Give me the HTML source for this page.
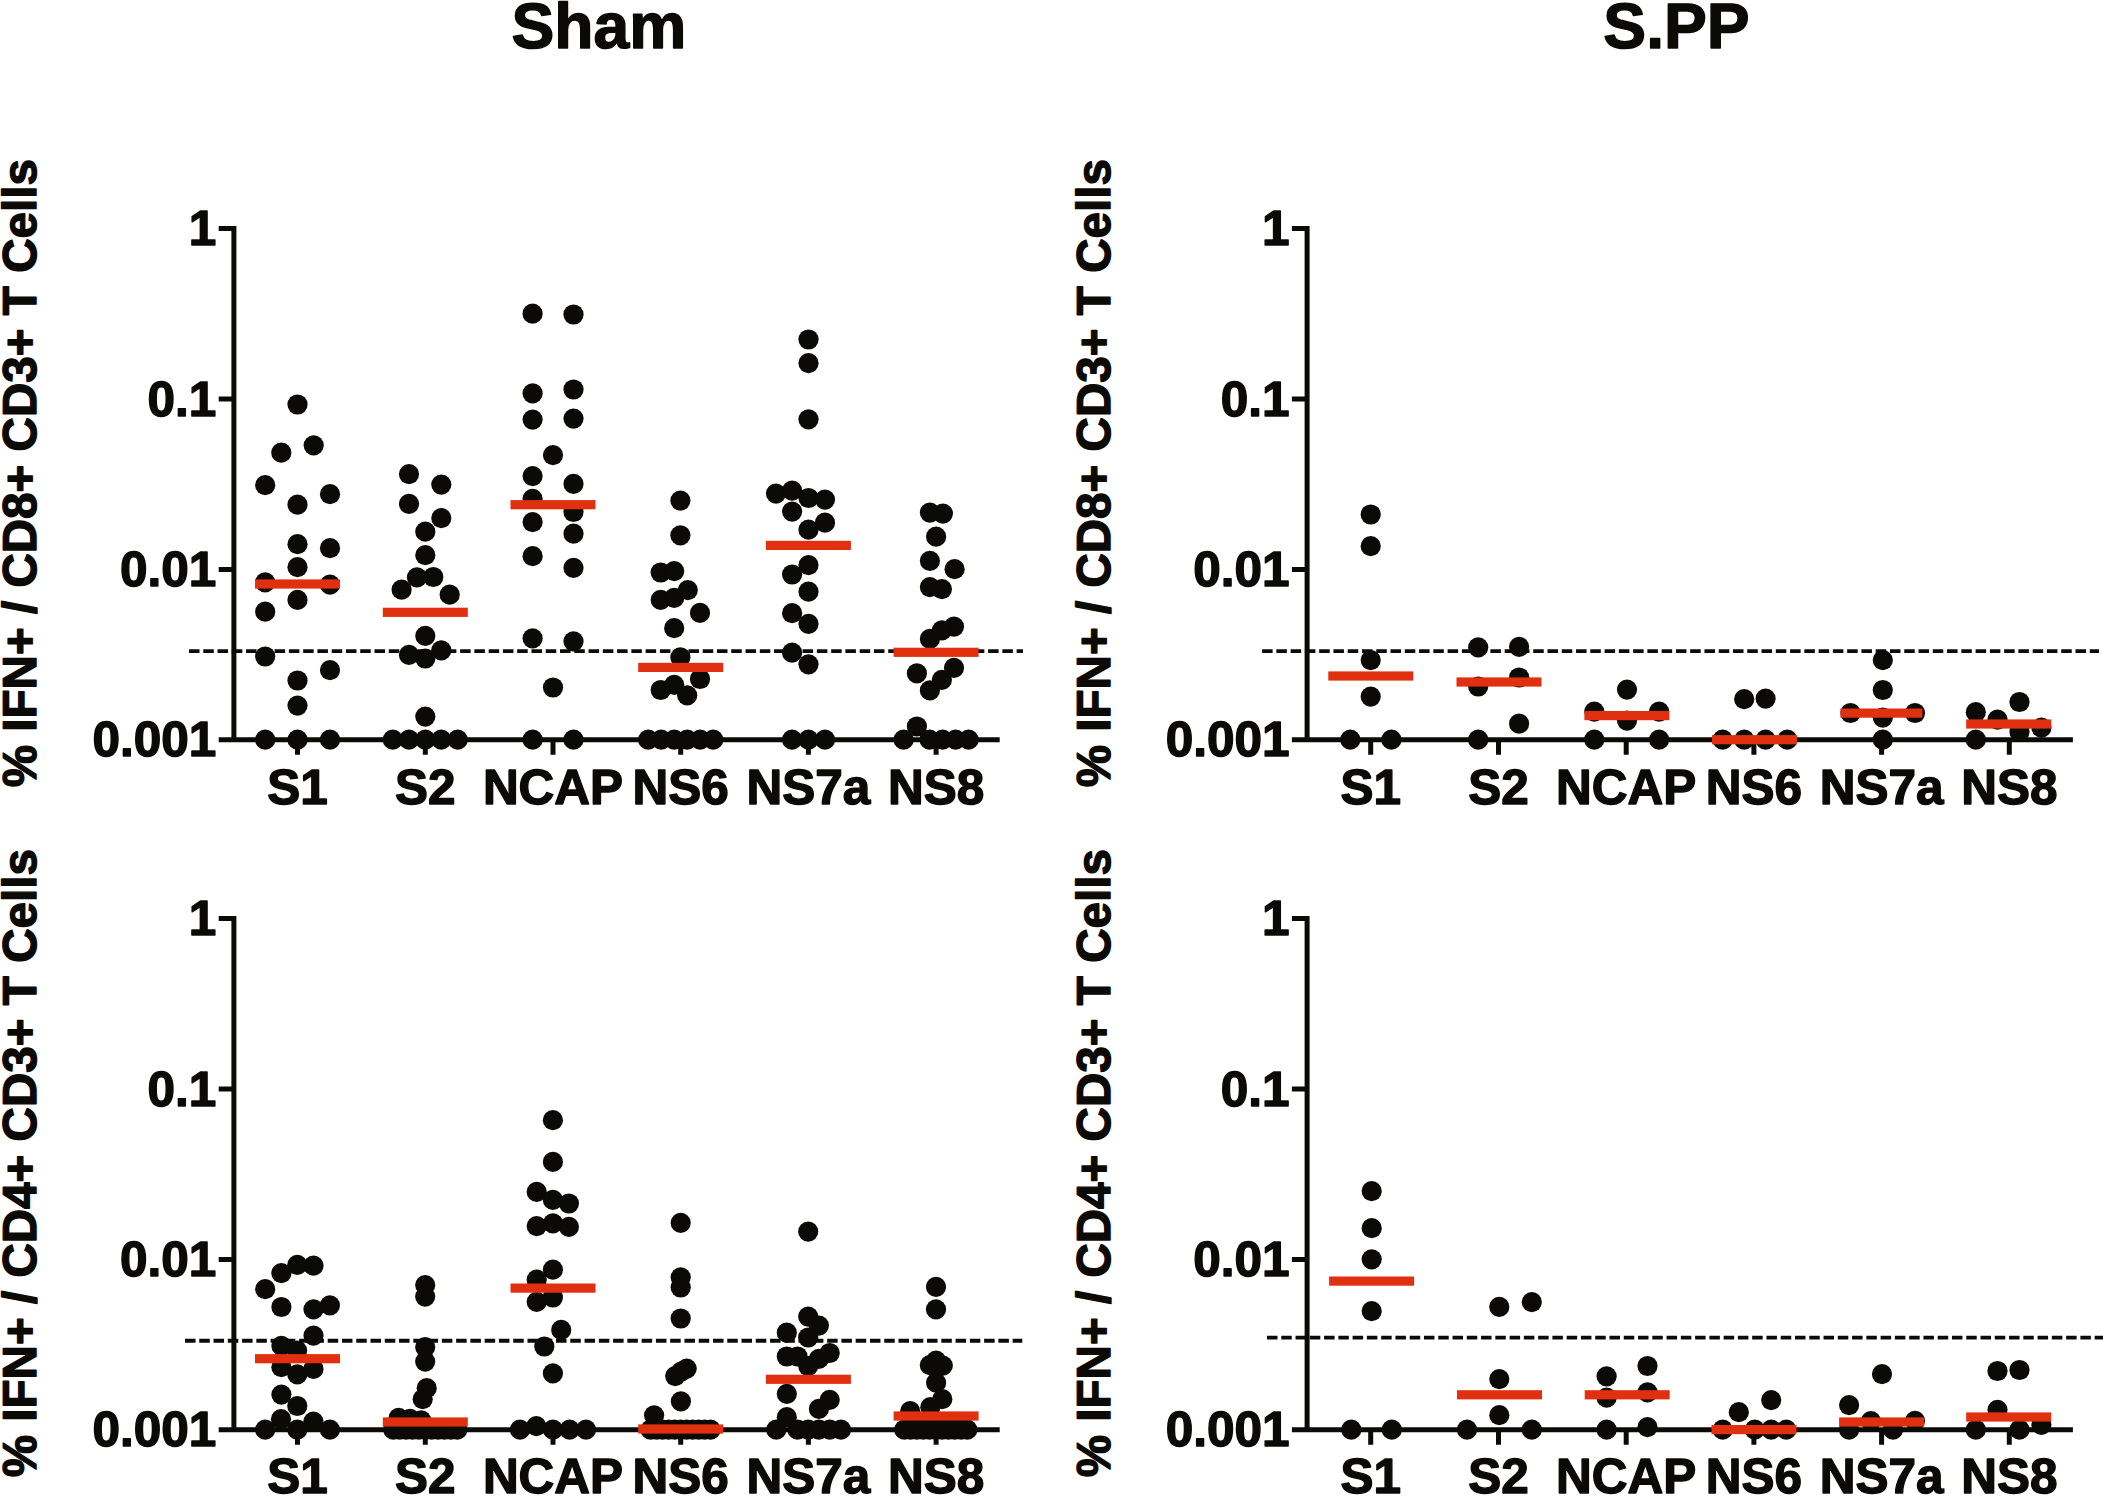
<!DOCTYPE html>
<html lang="en"><head><meta charset="utf-8"><title>IFN+ T cell responses: Sham vs S.PP</title>
<style>
html,body{margin:0;padding:0;background:#fff;}
body{width:2103px;height:1496px;overflow:hidden;}
svg{display:block;}
text{font-family:"Liberation Sans",sans-serif;font-weight:bold;fill:#0b0a07;stroke:#0b0a07;stroke-width:1.4px;stroke-linejoin:round;text-rendering:geometricPrecision;}
.t{font-size:64.2px;}
.l{font-size:49.5px;}
.x{font-size:49.5px;}
.y{font-size:47.6px;}
.ax{stroke:#0b0a07;stroke-width:5;fill:none;}
.d{fill:#0b0a07;}
.b{fill:#e1300f;}
.dash{stroke:#0b0a07;stroke-width:3.9;stroke-dasharray:10.5 3.77;fill:none;}
</style></head><body>
<svg width="2103" height="1496" viewBox="0 0 2103 1496">
<rect width="2103" height="1496" fill="#fff"/>
<text class="t" text-anchor="middle" transform="translate(598.9 47.7)">Sham</text>
<text class="t" text-anchor="middle" transform="translate(1676.5 47.7)">S.PP</text>
<g>
<text class="y" text-anchor="middle" transform="translate(36.3 473.2) rotate(-90)">% IFN+ / CD8+ CD3+ T Cells</text>
<text class="l" text-anchor="end" transform="translate(216.4 245.1)">1</text>
<text class="l" text-anchor="end" transform="translate(216.4 415.7)">0.1</text>
<text class="l" text-anchor="end" transform="translate(216.4 586)">0.01</text>
<text class="l" text-anchor="end" transform="translate(216.4 756.3)">0.001</text>
<path class="ax" d="M233.9 226 V742.2 M218.7 739.7 H999.7 M218.7 228.5 H233.9 M218.7 399.1 H233.9 M218.7 569.4 H233.9 M297.5 739.7 V754.8 M425.3 739.7 V754.8 M553 739.7 V754.8 M680.7 739.7 V754.8 M808.4 739.7 V754.8 M936.1 739.7 V754.8"/>
<path class="dash" d="M189 651.1 H1023"/>
<g class="d">
<circle cx="297.5" cy="404.5" r="10.1"/>
<circle cx="313.7" cy="445.3" r="10.1"/>
<circle cx="281.3" cy="452.7" r="10.1"/>
<circle cx="265.2" cy="485.2" r="10.1"/>
<circle cx="330" cy="494.2" r="10.1"/>
<circle cx="297.5" cy="504.6" r="10.1"/>
<circle cx="297.5" cy="544.2" r="10.1"/>
<circle cx="330" cy="548.2" r="10.1"/>
<circle cx="297.5" cy="567.2" r="10.1"/>
<circle cx="265.2" cy="582.3" r="10.1"/>
<circle cx="330" cy="584.7" r="10.1"/>
<circle cx="297.5" cy="599.9" r="10.1"/>
<circle cx="265.2" cy="611.7" r="10.1"/>
<circle cx="265.2" cy="656.5" r="10.1"/>
<circle cx="330" cy="670.1" r="10.1"/>
<circle cx="297.5" cy="680.5" r="10.1"/>
<circle cx="297.5" cy="705.6" r="10.1"/>
<circle cx="265.2" cy="739.7" r="10.1"/>
<circle cx="297.5" cy="739.7" r="10.1"/>
<circle cx="330" cy="739.7" r="10.1"/>
<circle cx="409" cy="474.1" r="10.1"/>
<circle cx="441.3" cy="484.6" r="10.1"/>
<circle cx="409" cy="503.8" r="10.1"/>
<circle cx="441.3" cy="518.1" r="10.1"/>
<circle cx="425.3" cy="531.7" r="10.1"/>
<circle cx="425.3" cy="555.2" r="10.1"/>
<circle cx="417" cy="577.4" r="10.1"/>
<circle cx="433.3" cy="577" r="10.1"/>
<circle cx="401.6" cy="589.7" r="10.1"/>
<circle cx="449.7" cy="594.7" r="10.1"/>
<circle cx="425.3" cy="635.8" r="10.1"/>
<circle cx="441.3" cy="650.4" r="10.1"/>
<circle cx="409" cy="654.9" r="10.1"/>
<circle cx="425.3" cy="658.5" r="10.1"/>
<circle cx="425.3" cy="716.6" r="10.1"/>
<circle cx="392.8" cy="739.7" r="10.1"/>
<circle cx="409" cy="739.7" r="10.1"/>
<circle cx="425.3" cy="739.7" r="10.1"/>
<circle cx="441.3" cy="739.7" r="10.1"/>
<circle cx="457.7" cy="739.7" r="10.1"/>
<circle cx="532.6" cy="313.7" r="10.1"/>
<circle cx="573.5" cy="314.5" r="10.1"/>
<circle cx="532.6" cy="393.3" r="10.1"/>
<circle cx="573.5" cy="389.5" r="10.1"/>
<circle cx="532.6" cy="419.6" r="10.1"/>
<circle cx="573.5" cy="418.6" r="10.1"/>
<circle cx="553" cy="455.1" r="10.1"/>
<circle cx="532.6" cy="476.1" r="10.1"/>
<circle cx="573.5" cy="483.8" r="10.1"/>
<circle cx="532.6" cy="498.8" r="10.1"/>
<circle cx="573.5" cy="512" r="10.1"/>
<circle cx="532.6" cy="522.1" r="10.1"/>
<circle cx="573.5" cy="533.7" r="10.1"/>
<circle cx="532.6" cy="556.2" r="10.1"/>
<circle cx="573.5" cy="567.8" r="10.1"/>
<circle cx="532.6" cy="638.4" r="10.1"/>
<circle cx="573.5" cy="641.4" r="10.1"/>
<circle cx="553" cy="687.5" r="10.1"/>
<circle cx="532.6" cy="739.7" r="10.1"/>
<circle cx="573.5" cy="739.7" r="10.1"/>
<circle cx="680.4" cy="500.6" r="10.1"/>
<circle cx="680.4" cy="535.3" r="10.1"/>
<circle cx="660.7" cy="572.5" r="10.1"/>
<circle cx="674.2" cy="571.1" r="10.1"/>
<circle cx="687.8" cy="590.1" r="10.1"/>
<circle cx="660.7" cy="599.8" r="10.1"/>
<circle cx="674.2" cy="597.8" r="10.1"/>
<circle cx="700" cy="612.8" r="10.1"/>
<circle cx="674.2" cy="628.2" r="10.1"/>
<circle cx="680.4" cy="657.3" r="10.1"/>
<circle cx="700" cy="679" r="10.1"/>
<circle cx="674.2" cy="684.8" r="10.1"/>
<circle cx="660.7" cy="690" r="10.1"/>
<circle cx="687.2" cy="695.4" r="10.1"/>
<circle cx="648.2" cy="739.7" r="10.1"/>
<circle cx="661.2" cy="739.7" r="10.1"/>
<circle cx="674.2" cy="739.7" r="10.1"/>
<circle cx="687.2" cy="739.7" r="10.1"/>
<circle cx="700.2" cy="739.7" r="10.1"/>
<circle cx="713.2" cy="739.7" r="10.1"/>
<circle cx="808.5" cy="339.5" r="10.1"/>
<circle cx="808.5" cy="363.2" r="10.1"/>
<circle cx="808.5" cy="419.4" r="10.1"/>
<circle cx="776" cy="493.6" r="10.1"/>
<circle cx="792.1" cy="490.6" r="10.1"/>
<circle cx="808.5" cy="498" r="10.1"/>
<circle cx="825" cy="499.6" r="10.1"/>
<circle cx="792.1" cy="511.6" r="10.1"/>
<circle cx="825" cy="522.7" r="10.1"/>
<circle cx="808.5" cy="529.7" r="10.1"/>
<circle cx="808.5" cy="565.1" r="10.1"/>
<circle cx="792.1" cy="574.5" r="10.1"/>
<circle cx="808.5" cy="591.7" r="10.1"/>
<circle cx="792.1" cy="613.2" r="10.1"/>
<circle cx="808.5" cy="623.8" r="10.1"/>
<circle cx="792.1" cy="652.7" r="10.1"/>
<circle cx="808.5" cy="664.3" r="10.1"/>
<circle cx="792.1" cy="739.7" r="10.1"/>
<circle cx="808.5" cy="739.7" r="10.1"/>
<circle cx="825" cy="739.7" r="10.1"/>
<circle cx="929.9" cy="512.6" r="10.1"/>
<circle cx="942.9" cy="513.6" r="10.1"/>
<circle cx="936.1" cy="536.7" r="10.1"/>
<circle cx="929.9" cy="560.8" r="10.1"/>
<circle cx="954.6" cy="569.2" r="10.1"/>
<circle cx="929.9" cy="587.1" r="10.1"/>
<circle cx="941.9" cy="589.1" r="10.1"/>
<circle cx="954" cy="626.6" r="10.1"/>
<circle cx="941.9" cy="630.3" r="10.1"/>
<circle cx="929.9" cy="638.9" r="10.1"/>
<circle cx="954" cy="667.8" r="10.1"/>
<circle cx="916.9" cy="673.4" r="10.1"/>
<circle cx="941.9" cy="679.8" r="10.1"/>
<circle cx="929.9" cy="690.4" r="10.1"/>
<circle cx="916.9" cy="726.5" r="10.1"/>
<circle cx="903.6" cy="739.7" r="10.1"/>
<circle cx="929.6" cy="739.7" r="10.1"/>
<circle cx="942.6" cy="739.7" r="10.1"/>
<circle cx="955.6" cy="739.7" r="10.1"/>
<circle cx="968.6" cy="739.7" r="10.1"/>
</g>
<g class="b">
<rect x="255" y="579.4" width="85" height="9.2"/>
<rect x="382.8" y="607.7" width="85" height="9.2"/>
<rect x="510.5" y="500.1" width="85" height="9.2"/>
<rect x="638.2" y="662.8" width="85" height="9.2"/>
<rect x="765.9" y="540.8" width="85" height="9.2"/>
<rect x="893.6" y="647.7" width="85" height="9.2"/>
</g>
<text class="x" text-anchor="middle" transform="translate(297.5 803.9)">S1</text>
<text class="x" text-anchor="middle" transform="translate(425.3 803.9)">S2</text>
<text class="x" text-anchor="middle" transform="translate(553 803.9)">NCAP</text>
<text class="x" text-anchor="middle" transform="translate(680.7 803.9)">NS6</text>
<text class="x" text-anchor="middle" transform="translate(808.4 803.9)">NS7a</text>
<text class="x" text-anchor="middle" transform="translate(936.1 803.9)">NS8</text>
</g>
<g>
<text class="y" text-anchor="middle" transform="translate(1109.5 473.2) rotate(-90)">% IFN+ / CD8+ CD3+ T Cells</text>
<text class="l" text-anchor="end" transform="translate(1289.6 245.1)">1</text>
<text class="l" text-anchor="end" transform="translate(1289.6 415.7)">0.1</text>
<text class="l" text-anchor="end" transform="translate(1289.6 586)">0.01</text>
<text class="l" text-anchor="end" transform="translate(1289.6 756.3)">0.001</text>
<path class="ax" d="M1307.1 226 V742.2 M1291.9 739.7 H2072.9 M1291.9 228.5 H1307.1 M1291.9 399.1 H1307.1 M1291.9 569.4 H1307.1 M1370.7 739.7 V754.8 M1498.5 739.7 V754.8 M1626.2 739.7 V754.8 M1753.9 739.7 V754.8 M1881.6 739.7 V754.8 M2009.3 739.7 V754.8"/>
<path class="dash" d="M1262.1 651.1 H2099"/>
<g class="d">
<circle cx="1370.7" cy="514.5" r="10.1"/>
<circle cx="1370.7" cy="546.2" r="10.1"/>
<circle cx="1370.7" cy="660.1" r="10.1"/>
<circle cx="1370.7" cy="696.6" r="10.1"/>
<circle cx="1350.3" cy="739.7" r="10.1"/>
<circle cx="1391.4" cy="739.7" r="10.1"/>
<circle cx="1478.2" cy="647.4" r="10.1"/>
<circle cx="1519.1" cy="646.8" r="10.1"/>
<circle cx="1519.1" cy="677.5" r="10.1"/>
<circle cx="1478.2" cy="686.5" r="10.1"/>
<circle cx="1519.1" cy="723.7" r="10.1"/>
<circle cx="1478.2" cy="739.7" r="10.1"/>
<circle cx="1627" cy="689.6" r="10.1"/>
<circle cx="1594.3" cy="711.6" r="10.1"/>
<circle cx="1659.1" cy="711.6" r="10.1"/>
<circle cx="1627" cy="720.6" r="10.1"/>
<circle cx="1594.3" cy="739.7" r="10.1"/>
<circle cx="1659.1" cy="739.7" r="10.1"/>
<circle cx="1744.2" cy="699.2" r="10.1"/>
<circle cx="1765.6" cy="698.6" r="10.1"/>
<circle cx="1722.7" cy="739.7" r="10.1"/>
<circle cx="1744.2" cy="739.7" r="10.1"/>
<circle cx="1765.6" cy="739.7" r="10.1"/>
<circle cx="1787.3" cy="739.7" r="10.1"/>
<circle cx="1882.8" cy="660.1" r="10.1"/>
<circle cx="1882.8" cy="690" r="10.1"/>
<circle cx="1850.5" cy="713" r="10.1"/>
<circle cx="1882.8" cy="717.6" r="10.1"/>
<circle cx="1915" cy="713" r="10.1"/>
<circle cx="1882.8" cy="739.7" r="10.1"/>
<circle cx="2019.5" cy="702" r="10.1"/>
<circle cx="1975.8" cy="712.2" r="10.1"/>
<circle cx="1997.5" cy="719.6" r="10.1"/>
<circle cx="2019.5" cy="731.7" r="10.1"/>
<circle cx="2041.4" cy="727.7" r="10.1"/>
<circle cx="1975.8" cy="739.7" r="10.1"/>
</g>
<g class="b">
<rect x="1328.3" y="671.4" width="85" height="9.2"/>
<rect x="1456.5" y="677.4" width="85" height="9.2"/>
<rect x="1584.4" y="711" width="85" height="9.2"/>
<rect x="1712" y="735.1" width="85" height="9.2"/>
<rect x="1840.4" y="708.5" width="82" height="9.2"/>
<rect x="1966.2" y="719.4" width="85" height="9.2"/>
</g>
<text class="x" text-anchor="middle" transform="translate(1370.7 803.9)">S1</text>
<text class="x" text-anchor="middle" transform="translate(1498.5 803.9)">S2</text>
<text class="x" text-anchor="middle" transform="translate(1626.2 803.9)">NCAP</text>
<text class="x" text-anchor="middle" transform="translate(1753.9 803.9)">NS6</text>
<text class="x" text-anchor="middle" transform="translate(1881.6 803.9)">NS7a</text>
<text class="x" text-anchor="middle" transform="translate(2009.3 803.9)">NS8</text>
</g>
<g>
<text class="y" text-anchor="middle" transform="translate(36.3 1163.2) rotate(-90)">% IFN+ / CD4+ CD3+ T Cells</text>
<text class="l" text-anchor="end" transform="translate(216.4 935.1)">1</text>
<text class="l" text-anchor="end" transform="translate(216.4 1105.7)">0.1</text>
<text class="l" text-anchor="end" transform="translate(216.4 1276)">0.01</text>
<text class="l" text-anchor="end" transform="translate(216.4 1446.3)">0.001</text>
<path class="ax" d="M233.9 916 V1432.2 M218.7 1429.7 H999.7 M218.7 918.5 H233.9 M218.7 1089.1 H233.9 M218.7 1259.4 H233.9 M297.5 1429.7 V1444.8 M425.3 1429.7 V1444.8 M553 1429.7 V1444.8 M680.7 1429.7 V1444.8 M808.4 1429.7 V1444.8 M936.1 1429.7 V1444.8"/>
<path class="dash" d="M185 1340.8 H1022.3"/>
<g class="d">
<circle cx="297.3" cy="1264.9" r="10.1"/>
<circle cx="313.5" cy="1265.6" r="10.1"/>
<circle cx="281.4" cy="1273.2" r="10.1"/>
<circle cx="265.2" cy="1289.2" r="10.1"/>
<circle cx="281.4" cy="1307" r="10.1"/>
<circle cx="329.9" cy="1305.4" r="10.1"/>
<circle cx="313.5" cy="1309.4" r="10.1"/>
<circle cx="313.5" cy="1335.6" r="10.1"/>
<circle cx="281.4" cy="1345.8" r="10.1"/>
<circle cx="297.1" cy="1350.6" r="10.1"/>
<circle cx="281.4" cy="1367.2" r="10.1"/>
<circle cx="313.5" cy="1368.9" r="10.1"/>
<circle cx="297.3" cy="1374.4" r="10.1"/>
<circle cx="281.4" cy="1394.6" r="10.1"/>
<circle cx="297.3" cy="1406" r="10.1"/>
<circle cx="281" cy="1419.2" r="10.1"/>
<circle cx="313.4" cy="1421.7" r="10.1"/>
<circle cx="265.2" cy="1429.7" r="10.1"/>
<circle cx="297.3" cy="1429.7" r="10.1"/>
<circle cx="329.9" cy="1429.7" r="10.1"/>
<circle cx="425.2" cy="1285.1" r="10.1"/>
<circle cx="425.2" cy="1296.6" r="10.1"/>
<circle cx="425.2" cy="1347.1" r="10.1"/>
<circle cx="425.2" cy="1361.6" r="10.1"/>
<circle cx="426.7" cy="1388.2" r="10.1"/>
<circle cx="422.7" cy="1399.2" r="10.1"/>
<circle cx="398.6" cy="1417.8" r="10.1"/>
<circle cx="410.1" cy="1418.8" r="10.1"/>
<circle cx="421.2" cy="1420.3" r="10.1"/>
<circle cx="393.3" cy="1429.7" r="10.1"/>
<circle cx="399.7" cy="1429.7" r="10.1"/>
<circle cx="406.1" cy="1429.7" r="10.1"/>
<circle cx="412.5" cy="1429.7" r="10.1"/>
<circle cx="418.9" cy="1429.7" r="10.1"/>
<circle cx="425.3" cy="1429.7" r="10.1"/>
<circle cx="431.7" cy="1429.7" r="10.1"/>
<circle cx="438.1" cy="1429.7" r="10.1"/>
<circle cx="444.5" cy="1429.7" r="10.1"/>
<circle cx="450.9" cy="1429.7" r="10.1"/>
<circle cx="457.3" cy="1429.7" r="10.1"/>
<circle cx="552.9" cy="1120.2" r="10.1"/>
<circle cx="552.9" cy="1161.9" r="10.1"/>
<circle cx="536.7" cy="1191.9" r="10.1"/>
<circle cx="552.9" cy="1199.9" r="10.1"/>
<circle cx="568.9" cy="1203.5" r="10.1"/>
<circle cx="536.7" cy="1226.1" r="10.1"/>
<circle cx="552.9" cy="1223.3" r="10.1"/>
<circle cx="568.9" cy="1226.8" r="10.1"/>
<circle cx="552.9" cy="1269.7" r="10.1"/>
<circle cx="536.7" cy="1279.7" r="10.1"/>
<circle cx="552.9" cy="1297.5" r="10.1"/>
<circle cx="536.7" cy="1301.8" r="10.1"/>
<circle cx="561.2" cy="1329.9" r="10.1"/>
<circle cx="544.3" cy="1346.5" r="10.1"/>
<circle cx="552.9" cy="1373.4" r="10.1"/>
<circle cx="520" cy="1429.7" r="10.1"/>
<circle cx="536.3" cy="1426.2" r="10.1"/>
<circle cx="553" cy="1429.7" r="10.1"/>
<circle cx="569.6" cy="1429.7" r="10.1"/>
<circle cx="586" cy="1429.7" r="10.1"/>
<circle cx="680.7" cy="1222.8" r="10.1"/>
<circle cx="680.7" cy="1277.3" r="10.1"/>
<circle cx="680.7" cy="1287.5" r="10.1"/>
<circle cx="680.7" cy="1318.5" r="10.1"/>
<circle cx="686.7" cy="1368.6" r="10.1"/>
<circle cx="681.2" cy="1371.6" r="10.1"/>
<circle cx="675.2" cy="1376.1" r="10.1"/>
<circle cx="680.9" cy="1401.4" r="10.1"/>
<circle cx="654.1" cy="1415.3" r="10.1"/>
<circle cx="650.6" cy="1429.7" r="10.1"/>
<circle cx="656.6" cy="1429.7" r="10.1"/>
<circle cx="662.6" cy="1429.7" r="10.1"/>
<circle cx="668.6" cy="1429.7" r="10.1"/>
<circle cx="674.6" cy="1429.7" r="10.1"/>
<circle cx="680.6" cy="1429.7" r="10.1"/>
<circle cx="686.6" cy="1429.7" r="10.1"/>
<circle cx="692.6" cy="1429.7" r="10.1"/>
<circle cx="698.6" cy="1429.7" r="10.1"/>
<circle cx="704.6" cy="1429.7" r="10.1"/>
<circle cx="710.6" cy="1429.7" r="10.1"/>
<circle cx="808.2" cy="1231.6" r="10.1"/>
<circle cx="808.2" cy="1316.6" r="10.1"/>
<circle cx="818.9" cy="1325.6" r="10.1"/>
<circle cx="786.8" cy="1332.7" r="10.1"/>
<circle cx="808.2" cy="1337.5" r="10.1"/>
<circle cx="829.7" cy="1353" r="10.1"/>
<circle cx="786.8" cy="1356.5" r="10.1"/>
<circle cx="797.5" cy="1356.5" r="10.1"/>
<circle cx="818.9" cy="1358.9" r="10.1"/>
<circle cx="808.2" cy="1366.1" r="10.1"/>
<circle cx="786.8" cy="1393.8" r="10.1"/>
<circle cx="829.7" cy="1399.9" r="10.1"/>
<circle cx="818.9" cy="1408.9" r="10.1"/>
<circle cx="786.8" cy="1417.2" r="10.1"/>
<circle cx="776.3" cy="1429.7" r="10.1"/>
<circle cx="797.5" cy="1429.7" r="10.1"/>
<circle cx="808.2" cy="1429.7" r="10.1"/>
<circle cx="818.9" cy="1429.7" r="10.1"/>
<circle cx="829.7" cy="1429.7" r="10.1"/>
<circle cx="841" cy="1429.7" r="10.1"/>
<circle cx="936" cy="1286.8" r="10.1"/>
<circle cx="936" cy="1309.4" r="10.1"/>
<circle cx="936.1" cy="1360.6" r="10.1"/>
<circle cx="929.8" cy="1365.1" r="10.1"/>
<circle cx="942.8" cy="1365.6" r="10.1"/>
<circle cx="936.1" cy="1382.7" r="10.1"/>
<circle cx="942.3" cy="1399.2" r="10.1"/>
<circle cx="930.3" cy="1407.2" r="10.1"/>
<circle cx="910.2" cy="1411.2" r="10.1"/>
<circle cx="904.3" cy="1429.7" r="10.1"/>
<circle cx="910.6" cy="1429.7" r="10.1"/>
<circle cx="916.9" cy="1429.7" r="10.1"/>
<circle cx="923.2" cy="1429.7" r="10.1"/>
<circle cx="929.5" cy="1429.7" r="10.1"/>
<circle cx="935.8" cy="1429.7" r="10.1"/>
<circle cx="942.1" cy="1429.7" r="10.1"/>
<circle cx="948.4" cy="1429.7" r="10.1"/>
<circle cx="954.7" cy="1429.7" r="10.1"/>
<circle cx="961" cy="1429.7" r="10.1"/>
<circle cx="967.3" cy="1429.7" r="10.1"/>
</g>
<g class="b">
<rect x="255" y="1354.1" width="85" height="9.2"/>
<rect x="382.8" y="1417.4" width="85" height="9.2"/>
<rect x="510.5" y="1283.5" width="85" height="9.2"/>
<rect x="638.2" y="1424.4" width="85" height="9.2"/>
<rect x="765.9" y="1374.7" width="85" height="9.2"/>
<rect x="893.6" y="1411.4" width="85" height="9.2"/>
</g>
<text class="x" text-anchor="middle" transform="translate(297.5 1493)">S1</text>
<text class="x" text-anchor="middle" transform="translate(425.3 1493)">S2</text>
<text class="x" text-anchor="middle" transform="translate(553 1493)">NCAP</text>
<text class="x" text-anchor="middle" transform="translate(680.7 1493)">NS6</text>
<text class="x" text-anchor="middle" transform="translate(808.4 1493)">NS7a</text>
<text class="x" text-anchor="middle" transform="translate(936.1 1493)">NS8</text>
</g>
<g>
<text class="y" text-anchor="middle" transform="translate(1109.5 1163.2) rotate(-90)">% IFN+ / CD4+ CD3+ T Cells</text>
<text class="l" text-anchor="end" transform="translate(1289.6 935.1)">1</text>
<text class="l" text-anchor="end" transform="translate(1289.6 1105.7)">0.1</text>
<text class="l" text-anchor="end" transform="translate(1289.6 1276)">0.01</text>
<text class="l" text-anchor="end" transform="translate(1289.6 1446.3)">0.001</text>
<path class="ax" d="M1307.1 916 V1432.2 M1291.9 1429.7 H2072.9 M1291.9 918.5 H1307.1 M1291.9 1089.1 H1307.1 M1291.9 1259.4 H1307.1 M1370.7 1429.7 V1444.8 M1498.5 1429.7 V1444.8 M1626.2 1429.7 V1444.8 M1753.9 1429.7 V1444.8 M1881.6 1429.7 V1444.8 M2009.3 1429.7 V1444.8"/>
<path class="dash" d="M1267 1337.6 H2103"/>
<g class="d">
<circle cx="1371.7" cy="1191.1" r="10.1"/>
<circle cx="1371.7" cy="1228.2" r="10.1"/>
<circle cx="1371.7" cy="1259.3" r="10.1"/>
<circle cx="1371.7" cy="1311.1" r="10.1"/>
<circle cx="1351.3" cy="1429.7" r="10.1"/>
<circle cx="1391.8" cy="1429.7" r="10.1"/>
<circle cx="1499.3" cy="1306.9" r="10.1"/>
<circle cx="1531.8" cy="1302.1" r="10.1"/>
<circle cx="1499.3" cy="1379.1" r="10.1"/>
<circle cx="1499.3" cy="1415.2" r="10.1"/>
<circle cx="1467" cy="1429.7" r="10.1"/>
<circle cx="1531.8" cy="1429.7" r="10.1"/>
<circle cx="1647.5" cy="1366" r="10.1"/>
<circle cx="1606.6" cy="1376.3" r="10.1"/>
<circle cx="1647.5" cy="1392.3" r="10.1"/>
<circle cx="1606.6" cy="1397.7" r="10.1"/>
<circle cx="1606.6" cy="1429.7" r="10.1"/>
<circle cx="1647.5" cy="1427.2" r="10.1"/>
<circle cx="1771.2" cy="1400.1" r="10.1"/>
<circle cx="1738.8" cy="1412.2" r="10.1"/>
<circle cx="1722.7" cy="1429.7" r="10.1"/>
<circle cx="1754.8" cy="1429.7" r="10.1"/>
<circle cx="1771.2" cy="1429.7" r="10.1"/>
<circle cx="1786.3" cy="1429.7" r="10.1"/>
<circle cx="1882" cy="1374.1" r="10.1"/>
<circle cx="1849.1" cy="1405.1" r="10.1"/>
<circle cx="1870.9" cy="1421.2" r="10.1"/>
<circle cx="1915" cy="1420.8" r="10.1"/>
<circle cx="1849.1" cy="1429.7" r="10.1"/>
<circle cx="1893" cy="1429.7" r="10.1"/>
<circle cx="1997.5" cy="1371" r="10.1"/>
<circle cx="2019.5" cy="1370" r="10.1"/>
<circle cx="1997.5" cy="1409.8" r="10.1"/>
<circle cx="2041.4" cy="1424.8" r="10.1"/>
<circle cx="1975.8" cy="1429.7" r="10.1"/>
<circle cx="2019.5" cy="1429.7" r="10.1"/>
</g>
<g class="b">
<rect x="1329.1" y="1276.5" width="85" height="9.2"/>
<rect x="1457" y="1390.2" width="85" height="9.2"/>
<rect x="1584.7" y="1390.2" width="85" height="9.2"/>
<rect x="1711.5" y="1425" width="85" height="9.2"/>
<rect x="1839.1" y="1417.4" width="85" height="9.2"/>
<rect x="1966.2" y="1412.4" width="85" height="9.2"/>
</g>
<text class="x" text-anchor="middle" transform="translate(1370.7 1493)">S1</text>
<text class="x" text-anchor="middle" transform="translate(1498.5 1493)">S2</text>
<text class="x" text-anchor="middle" transform="translate(1626.2 1493)">NCAP</text>
<text class="x" text-anchor="middle" transform="translate(1753.9 1493)">NS6</text>
<text class="x" text-anchor="middle" transform="translate(1881.6 1493)">NS7a</text>
<text class="x" text-anchor="middle" transform="translate(2009.3 1493)">NS8</text>
</g>
</svg></body></html>
